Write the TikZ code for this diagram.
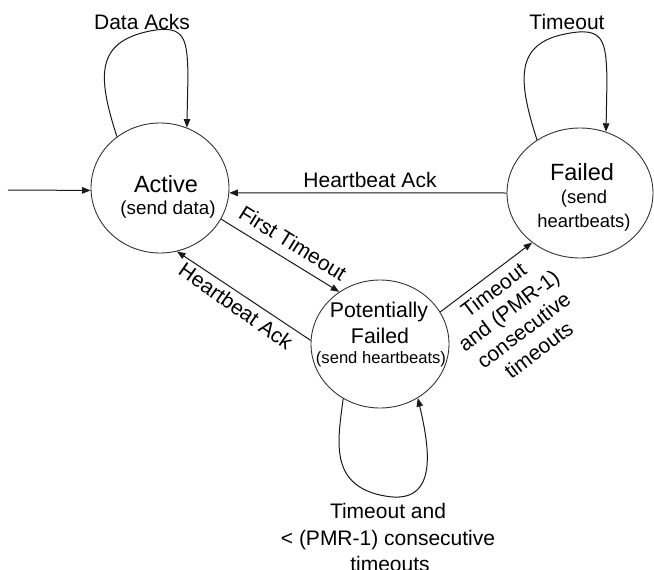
\documentclass[tikz,border=0pt]{standalone}
\usepackage{fontspec}
\setmainfont{Liberation Sans}
\usetikzlibrary{shapes.geometric,arrows.meta}

\tikzset{
  state/.style={ellipse, draw=black!80, line width=0.9pt, inner sep=0pt,
                minimum width=138pt, minimum height=130pt},
  lbl/.style={inner sep=0pt, font=\fontsize{21}{25}\selectfont, align=center},
  title/.style={inner sep=0pt, anchor=base, font=\fontsize{23.5}{27}\selectfont},
  sub/.style={inner sep=0pt, anchor=base, font=\fontsize{18.8}{23}\selectfont},
  trans/.style={draw=black!90, line width=1pt,
                -{Triangle[length=8.5pt,width=6.5pt]}},
}

\begin{document}
\begin{tikzpicture}[x=1pt, y=-1pt]
  \useasboundingbox (0,0) rectangle (654,570);

  % states
  \node[state] (A)  at (160,188) {};
  \node[state, minimum width=146pt] (F)  at (580,193) {};
  \node[state, minimum height=128pt] (PF) at (380,344) {};

  % state texts
  \node[title] (A1) at (166,192) {Active};
  \node[sub]   (A2) at (168,214) {(send data)};

  \node[title] (F1) at (582,180) {Failed};
  \node[sub, font=\fontsize{18.4}{22}\selectfont] (F2) at (584,203) {(send};
  \node[sub, font=\fontsize{18.4}{22}\selectfont] (F3) at (584,227) {heartbeats)};

  \node[title, font=\fontsize{21.3}{25}\selectfont] (P1) at (379,317) {Potentially};
  \node[title, font=\fontsize{21.3}{25}\selectfont] (P2) at (380,343) {Failed};
  \node[sub, font=\fontsize{16.6}{20}\selectfont] (P3) at (381,363) {(send heartbeats)};

  % initial transition
  \coordinate (init) at (8,190);
  \draw[trans] (init) -- (A.182);

  % self loops
  \draw[trans] (A.130) .. controls (97,75) and (96,42) .. (150,31)
               .. controls (186,24) and (187,40) .. (188,75) -- (A.66);
  \draw[trans] (F.129) .. controls (517,78) and (516,44) .. (565,34)
               .. controls (604,26) and (606,40) .. (607,80) -- (F.67);
  \draw[trans] (PF.236) .. controls (338,440) and (328,486) .. (385,496)
               .. controls (440,506) and (429,446) .. (PF.305);

  % transitions between states
  \draw[trans] (F.180) -- (A.-4);
  \draw[trans] (A.-27) -- (PF.128);
  \draw[trans] (PF.177) -- (A.-75);
  \draw[trans] (PF.28) -- (F.-134);

  % transition labels
  \node[lbl, anchor=base] (lDA) at (142,30) {Data Acks};
  \node[lbl, anchor=base] (lTO) at (567,29) {Timeout};
  \node[lbl, anchor=base] (lHA) at (370,187) {Heartbeat Ack};
  \node[lbl, rotate=-32] (lFT) at (293,243) {First Timeout};
  \node[lbl, rotate=-35] (lHB) at (236,306) {Heartbeat Ack};
  \node[lbl, rotate=37] (lPM) at (516,320)
       {Timeout\\and (PMR-1)\\consecutive\\timeouts};
  \node[lbl, anchor=base] (lB1) at (388,518) {Timeout and};
  \node[lbl, anchor=base] (lB2) at (388,545) {< (PMR-1) consecutive};
  \node[lbl, anchor=base] (lB3) at (390,571) {timeouts};
\end{tikzpicture}
\end{document}
